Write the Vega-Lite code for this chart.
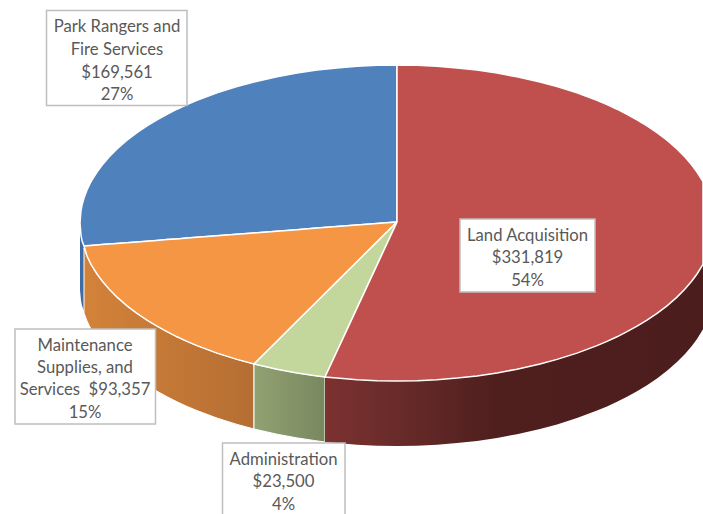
{"$schema":"https://vega.github.io/schema/vega-lite/v6.json","width":703,"height":514,"padding":0,"autosize":{"type":"none"},"background":"white","config":{"view":{"stroke":null}},
"encoding":{"x":{"field":"x","type":"quantitative","scale":{"domain":[0,703],"nice":false,"zero":false},"axis":null},"y":{"field":"y","type":"quantitative","scale":{"domain":[514,0],"nice":false,"zero":false},"axis":null}},
"datasets":{
"blueWall":[{"x":80,"y":232,"y2":290},{"x":81,"y":235.5,"y2":300.5},{"x":82,"y":240.7,"y2":305.7},{"x":84,"y":246,"y2":311}],
"orangeWall":[{"x":84,"y":248,"y2":313},{"x":87,"y":256,"y2":321},{"x":91,"y":264.3,"y2":329.3},{"x":97,"y":274,"y2":339},{"x":102,"y":280.8,"y2":345.8},{"x":109,"y":289,"y2":354},{"x":117,"y":297.1,"y2":362.1},{"x":127,"y":305.8,"y2":370.8},{"x":137,"y":313.4,"y2":378.4},{"x":147,"y":320.2,"y2":385.2},{"x":157,"y":326.2,"y2":391.2},{"x":167,"y":331.7,"y2":396.7},{"x":177,"y":336.8,"y2":401.8},{"x":187,"y":341.4,"y2":406.4},{"x":197,"y":345.6,"y2":410.6},{"x":217,"y":353.1,"y2":418.1},{"x":237,"y":359.4,"y2":424.4},{"x":254,"y":364,"y2":429}],
"greenWall":[{"x":254,"y":364,"y2":429},{"x":277,"y":369.2,"y2":434.2},{"x":297,"y":372.9,"y2":437.9},{"x":317,"y":375.9,"y2":440.9},{"x":325,"y":377,"y2":442}],
"redWall":[{"x":325,"y":377,"y2":442},{"x":337,"y":378.1,"y2":443.1},{"x":357,"y":379.7,"y2":444.7},{"x":377,"y":380.7,"y2":445.7},{"x":397,"y":381,"y2":446},{"x":417,"y":380.7,"y2":445.7},{"x":437,"y":379.7,"y2":444.7},{"x":457,"y":378.1,"y2":443.1},{"x":477,"y":375.9,"y2":440.9},{"x":497,"y":372.9,"y2":437.9},{"x":517,"y":369.2,"y2":434.2},{"x":540,"y":364,"y2":429},{"x":557,"y":359.4,"y2":424.4},{"x":577,"y":353.1,"y2":418.1},{"x":597,"y":345.6,"y2":410.6},{"x":607,"y":341.4,"y2":406.4},{"x":617,"y":336.8,"y2":401.8},{"x":627,"y":331.7,"y2":396.7},{"x":637,"y":326.2,"y2":391.2},{"x":647,"y":320.2,"y2":385.2},{"x":657,"y":313.4,"y2":378.4},{"x":667,"y":305.8,"y2":370.8},{"x":677,"y":297.1,"y2":362.1},{"x":685,"y":289,"y2":354},{"x":692,"y":280.8,"y2":345.8},{"x":697,"y":274,"y2":339},{"x":703,"y":264.3,"y2":329.3}],
"blue":[{"x":80,"y":223,"y2":223},{"x":81,"y":210.5,"y2":235.5},{"x":82,"y":205.3,"y2":240.7},{"x":84,"y":198,"y2":246},{"x":87,"y":190,"y2":245.8},{"x":91,"y":181.7,"y2":245.5},{"x":97,"y":172,"y2":245},{"x":102,"y":165.2,"y2":244.6},{"x":109,"y":157,"y2":244.1},{"x":117,"y":148.9,"y2":243.5},{"x":127,"y":140.2,"y2":242.7},{"x":137,"y":132.6,"y2":241.9},{"x":147,"y":125.8,"y2":241.2},{"x":157,"y":119.8,"y2":240.4},{"x":167,"y":114.3,"y2":239.6},{"x":177,"y":109.2,"y2":238.9},{"x":187,"y":104.6,"y2":238.1},{"x":197,"y":100.4,"y2":237.3},{"x":217,"y":92.9,"y2":235.8},{"x":237,"y":86.6,"y2":234.3},{"x":254,"y":82,"y2":233},{"x":277,"y":76.8,"y2":231.2},{"x":297,"y":73.1,"y2":229.7},{"x":317,"y":70.1,"y2":228.1},{"x":337,"y":67.9,"y2":226.6},{"x":357,"y":66.3,"y2":225.1},{"x":377,"y":65.3,"y2":223.5},{"x":397,"y":65,"y2":222}],
"orange":[{"x":84,"y":246,"y2":246},{"x":87,"y":245.8,"y2":256},{"x":91,"y":245.5,"y2":264.3},{"x":97,"y":245,"y2":274},{"x":102,"y":244.6,"y2":280.8},{"x":109,"y":244.1,"y2":289},{"x":117,"y":243.5,"y2":297.1},{"x":127,"y":242.7,"y2":305.8},{"x":137,"y":241.9,"y2":313.4},{"x":147,"y":241.2,"y2":320.2},{"x":157,"y":240.4,"y2":326.2},{"x":167,"y":239.6,"y2":331.7},{"x":177,"y":238.9,"y2":336.8},{"x":187,"y":238.1,"y2":341.4},{"x":197,"y":237.3,"y2":345.6},{"x":217,"y":235.8,"y2":353.1},{"x":237,"y":234.3,"y2":359.4},{"x":254,"y":233,"y2":364},{"x":277,"y":231.2,"y2":341.2},{"x":297,"y":229.7,"y2":321.3},{"x":317,"y":228.1,"y2":301.5},{"x":337,"y":226.6,"y2":281.6},{"x":357,"y":225.1,"y2":261.7},{"x":377,"y":223.5,"y2":241.9},{"x":397,"y":222,"y2":222}],
"green":[{"x":254,"y":364,"y2":364},{"x":277,"y":341.2,"y2":369.2},{"x":297,"y":321.3,"y2":372.9},{"x":317,"y":301.5,"y2":375.9},{"x":325,"y":293.5,"y2":377},{"x":337,"y":281.6,"y2":351.2},{"x":357,"y":261.7,"y2":308.1},{"x":377,"y":241.9,"y2":265.1},{"x":397,"y":222,"y2":222}],
"red":[{"x":325,"y":377,"y2":377},{"x":337,"y":351.2,"y2":378.1},{"x":357,"y":308.1,"y2":379.7},{"x":377,"y":265.1,"y2":380.7},{"x":397,"y":222,"y2":381},{"x":397,"y":65,"y2":381},{"x":417,"y":65.3,"y2":380.7},{"x":437,"y":66.3,"y2":379.7},{"x":457,"y":67.9,"y2":378.1},{"x":477,"y":70.1,"y2":375.9},{"x":497,"y":73.1,"y2":372.9},{"x":517,"y":76.8,"y2":369.2},{"x":540,"y":82,"y2":364},{"x":557,"y":86.6,"y2":359.4},{"x":577,"y":92.9,"y2":353.1},{"x":597,"y":100.4,"y2":345.6},{"x":607,"y":104.6,"y2":341.4},{"x":617,"y":109.2,"y2":336.8},{"x":627,"y":114.3,"y2":331.7},{"x":637,"y":119.8,"y2":326.2},{"x":647,"y":125.8,"y2":320.2},{"x":657,"y":132.6,"y2":313.4},{"x":667,"y":140.2,"y2":305.8},{"x":677,"y":148.9,"y2":297.1},{"x":685,"y":157,"y2":289},{"x":692,"y":165.2,"y2":280.8},{"x":697,"y":172,"y2":274},{"x":703,"y":181.7,"y2":264.3}],
"boxes":[{"category":"Park Rangers and Fire Services","amount":169561,"percent":27,"x":46.5,"x2":187,"y":10.5,"y2":105.5},{"category":"Maintenance Supplies, and Services","amount":93357,"percent":15,"x":15,"x2":155.5,"y":329,"y2":424},{"category":"Administration","amount":23500,"percent":4,"x":222.5,"x2":345,"y":443,"y2":530},{"category":"Land Acquisition","amount":331819,"percent":54,"x":460,"x2":595,"y":219,"y2":292}],
"lines":[{"x":117,"y":25,"t":"Park Rangers and"},{"x":117,"y":48,"t":"Fire Services"},{"x":117,"y":71,"t":"$169,561"},{"x":117,"y":93,"t":"27%"},{"x":85,"y":344,"t":"Maintenance"},{"x":85,"y":366,"t":"Supplies, and"},{"x":85,"y":388.5,"t":"Services \u00a0$93,357"},{"x":85,"y":411,"t":"15%"},{"x":283.5,"y":458,"t":"Administration"},{"x":283.5,"y":480,"t":"$23,500"},{"x":283.5,"y":503,"t":"4%"},{"x":527.5,"y":234,"t":"Land Acquisition"},{"x":527.5,"y":256.5,"t":"$331,819"},{"x":527.5,"y":279,"t":"54%"}]
},
"layer":[
{"data":{"name":"blueWall"},"mark":{"type":"area","orient":"vertical","fill":"#3f6ca6","clip":true},"encoding":{"y2":{"field":"y2"}}},
{"data":{"name":"orangeWall"},"mark":{"type":"area","orient":"vertical","stroke":"white","strokeWidth":1,"clip":true,"fill":{"gradient":"linear","x1":0,"x2":1,"y1":0,"y2":0,"stops":[{"offset":0,"color":"#d38239"},{"offset":1,"color":"#b56e33"}]}},"encoding":{"y2":{"field":"y2"}}},
{"data":{"name":"greenWall"},"mark":{"type":"area","orient":"vertical","stroke":"white","strokeWidth":1,"clip":true,"fill":{"gradient":"linear","x1":0,"x2":1,"y1":0,"y2":0,"stops":[{"offset":0,"color":"#91a272"},{"offset":1,"color":"#79875f"}]}},"encoding":{"y2":{"field":"y2"}}},
{"data":{"name":"redWall"},"mark":{"type":"area","orient":"vertical","clip":true,"fill":{"gradient":"linear","x1":0,"x2":1,"y1":0,"y2":0,"stops":[{"offset":0,"color":"#7c3130"},{"offset":0.2,"color":"#672b29"},{"offset":0.45,"color":"#4f1f1e"},{"offset":1,"color":"#4b1d1c"}]}},"encoding":{"y2":{"field":"y2"}}},
{"data":{"name":"blue"},"mark":{"type":"area","orient":"vertical","fill":"#4f81bd","stroke":"white","strokeWidth":1.5,"clip":true},"encoding":{"y2":{"field":"y2"}}},
{"data":{"name":"orange"},"mark":{"type":"area","orient":"vertical","fill":"#f59644","stroke":"white","strokeWidth":1.5,"clip":true},"encoding":{"y2":{"field":"y2"}}},
{"data":{"name":"green"},"mark":{"type":"area","orient":"vertical","fill":"#c3d69b","stroke":"white","strokeWidth":1.5,"clip":true},"encoding":{"y2":{"field":"y2"}}},
{"data":{"name":"red"},"mark":{"type":"area","orient":"vertical","fill":"#c0504d","stroke":"white","strokeWidth":1.5,"clip":true},"encoding":{"y2":{"field":"y2"}}},
{"data":{"name":"boxes"},"mark":{"type":"rect","fill":"white","stroke":"#bfbfbf","strokeWidth":1.5,"clip":true},"encoding":{"x2":{"field":"x2"},"y2":{"field":"y2"}}},
{"data":{"name":"lines"},"mark":{"type":"text","font":"Lato","fontSize":16.7,"color":"#595959","align":"center","baseline":"middle","dy":1.5},"encoding":{"text":{"field":"t","type":"nominal"}}}
]}
